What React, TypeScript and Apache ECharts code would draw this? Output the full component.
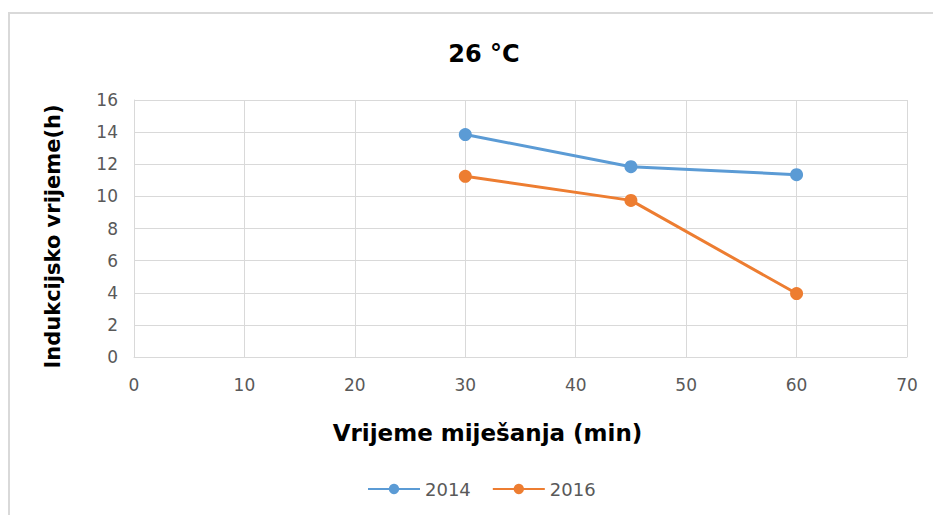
import React, { useEffect, useRef } from "react";
import * as echarts from "echarts";

const xValues = [30, 45, 60];
const series2014 = [13.85, 11.85, 11.35];
const series2016 = [11.25, 9.75, 3.95];
const seriesNames = ["2014", "2016"];
const titleText = "26 °C";
const xAxisName = "Vrijeme miješanja (min)";
const yAxisName = "Indukcijsko vrijeme(h)";

const FONT = "'DejaVu Sans', 'Open Sans', sans-serif";

export default function App() {
  const ref = useRef<HTMLDivElement>(null);
  useEffect(() => {
    if (!ref.current) return;
    const chart = echarts.init(ref.current, null, { renderer: "svg" });
    chart.setOption({
      animation: false,
      backgroundColor: "#ffffff",
      textStyle: { fontFamily: FONT },
      title: {
        text: titleText,
        left: 479,
        textAlign: "center",
        top: 37,
        textStyle: { fontSize: 24, fontWeight: "bold", color: "#000", fontFamily: FONT },
      },
      graphic: [
        {
          type: "rect",
          shape: { x: 9, y: 13, width: 940, height: 520 },
          style: { fill: "none", stroke: "#d9d9d9", lineWidth: 2 },
          silent: true,
        },
      ],
      legend: {
        left: 362,
        top: 475,
        itemWidth: 52,
        itemHeight: 13,
        itemGap: 21,
        textStyle: { fontSize: 18, color: "#595959", fontFamily: FONT },
        data: seriesNames,
      },
      grid: { left: 134, right: 26, top: 100, bottom: 158, containLabel: false },
      xAxis: {
        type: "value",
        min: 0,
        max: 70,
        interval: 10,
        name: xAxisName,
        nameLocation: "middle",
        nameGap: 64,
        nameTextStyle: {
          fontSize: 23,
          fontWeight: "bold",
          color: "#000",
          fontFamily: FONT,
          padding: [0, 66, 0, 0],
        },
        axisLine: { show: true, lineStyle: { color: "#d9d9d9", width: 1 } },
        axisTick: { show: false },
        axisLabel: { fontSize: 17, color: "#595959", margin: 19, fontFamily: FONT },
        splitLine: { show: true, lineStyle: { color: "#d9d9d9", width: 1 } },
      },
      yAxis: {
        type: "value",
        min: 0,
        max: 16,
        interval: 2,
        name: yAxisName,
        nameLocation: "middle",
        nameGap: 71,
        nameTextStyle: {
          fontSize: 21,
          fontWeight: "bold",
          color: "#000",
          fontFamily: FONT,
          padding: [0, 16, 0, 0],
        },
        axisLine: { show: true, lineStyle: { color: "#d9d9d9", width: 1 } },
        axisTick: { show: false },
        axisLabel: { fontSize: 17, color: "#595959", margin: 16, fontFamily: FONT },
        splitLine: { show: true, lineStyle: { color: "#d9d9d9", width: 1 } },
      },
      series: [
        {
          name: seriesNames[0],
          type: "line",
          data: xValues.map((x, i) => [x, series2014[i]]),
          symbol: "circle",
          symbolSize: 13,
          lineStyle: { width: 3, color: "#5B9BD5" },
          itemStyle: { color: "#5B9BD5" },
        },
        {
          name: seriesNames[1],
          type: "line",
          data: xValues.map((x, i) => [x, series2016[i]]),
          symbol: "circle",
          symbolSize: 13,
          lineStyle: { width: 3, color: "#ED7D31" },
          itemStyle: { color: "#ED7D31" },
        },
      ],
    });
    return () => chart.dispose();
  }, []);
  return (
    <div
      ref={ref}
      style={{ position: "absolute", left: 0, top: 0, width: 933, height: 515 }}
    />
  );
}
